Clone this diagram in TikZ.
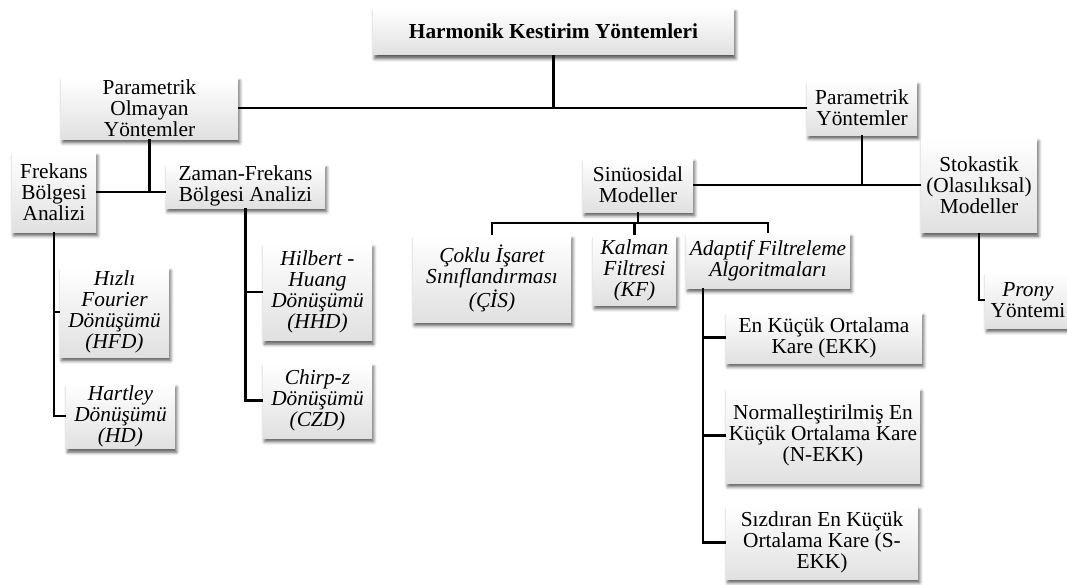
\documentclass[tikz,border=0pt]{standalone}
\usepackage{fontspec}
\setmainfont{Liberation Serif}
\usetikzlibrary{shadows.blur,calc}
\begin{document}
\begin{tikzpicture}[x=0.75pt,y=-0.75pt,
  bx/.style n args={2}{draw=none, top color=white, bottom color=gray!24,
    blur shadow={shadow xshift=1.2pt, shadow yshift=-2.8pt, shadow blur radius=2.4pt, shadow opacity=65},
    minimum width=#1*0.75pt, minimum height=#2*0.75pt, inner sep=0pt, align=center,
    font=\fontsize{16}{15.8}\selectfont},
  it/.style={font=\fontsize{16}{15.8}\selectfont\itshape},
  conn/.style={line width=1.8pt, black}]
\useasboundingbox (0,0) rectangle (1067,585);
% nodes
\node[bx={361}{47}, font=\fontsize{16}{16}\selectfont\bfseries] (top) at (553.5,31.5) {Harmonik Kestirim Yöntemleri};
\node[bx={177}{62}] (po) at (149.5,108) {Parametrik\\Olmayan\\Yöntemler};
\node[bx={110}{54}] (p) at (862,108) {Parametrik\\Yöntemler};
\node[bx={84}{80}] (fba) at (54,192) {Frekans\\Bölgesi\\Analizi};
\node[bx={159}{44}] (zf) at (245.5,186) {Zaman-Frekans\\Bölgesi Analizi};
\node[bx={110}{54}] (sin) at (638,185) {Sinüosidal\\Modeller};
\node[bx={116}{95}] (sto) at (979,185) {Stokastik\\(Olasılıksal)\\Modeller};
\node[bx={158}{87}, it] (cis) at (492,278.5) {Çoklu İşaret\\Sınıflandırması\\(ÇİS)};
\node[bx={83}{70}, it] (kf) at (634.5,270) {Kalman\\Filtresi\\(KF)};
\node[bx={164}{55}, it] (af) at (768,260.5) {Adaptif Filtreleme\\Algoritmaları};
\node[bx={109}{90}, it] (hfd) at (114.5,312) {Hızlı\\Fourier\\Dönüşümü\\(HFD)};
\node[bx={109}{65}, it] (hd) at (120.5,416) {Hartley\\Dönüşümü\\(HD)};
\node[bx={109}{97}, it] (hhd) at (317.5,292) {Hilbert -\\Huang\\Dönüşümü\\(HHD)};
\node[bx={109}{75}, it] (czd) at (317.5,400.5) {Chirp-z\\Dönüşümü\\(CZD)};
\node[bx={196}{51}] (ekk) at (824,337.5) {En Küçük Ortalama\\Kare (EKK)};
\node[bx={194}{95}] (nekk) at (823,435.5) {Normalleştirilmiş En\\Küçük Ortalama Kare\\(N-EKK)};
\node[bx={192}{73}] (sekk) at (822,542.5) {Sızdıran En Küçük\\Ortalama Kare (S-\\EKK)};
\node[bx={86}{56}] (prony) at (1028,300) {\textit{Prony}\\Yöntemi};
% junction coordinates
\coordinate (topj) at (top.south |- po.east);
\coordinate (sinj) at (638,223);
\coordinate (afb) at (703,288);
% connectors
\draw[conn] (top.south) -- (topj);
\draw[conn] (po.east) -- (p.west);
\draw[conn] (po.south) -- (po.south |- fba.east);
\draw[conn] (fba.east) -- (fba.east -| zf.west);
\draw[conn] (fba.south) |- (hd.west);
\draw[conn] (fba.south |- hfd.west) -- (hfd.west);
\draw[conn] (zf.south) |- (czd.west);
\draw[conn] (zf.south |- hhd.west) -- (hhd.west);
\draw[conn] (p.south) |- (sto.west);
\draw[conn] (sin.east) -- (sin.east -| p.south);
\draw[conn] (sto.south) |- (prony.west);
\draw[conn] (sin.south) -- (sinj);
\draw[conn] (cis.north) |- (sinj) -| (af.north);
\draw[conn] (kf.north) -- (kf.north |- sinj);
\draw[conn] (afb) |- (sekk.west);
\draw[conn] (afb |- ekk.west) -- (ekk.west);
\draw[conn] (afb |- nekk.west) -- (nekk.west);
\end{tikzpicture}
\end{document}
